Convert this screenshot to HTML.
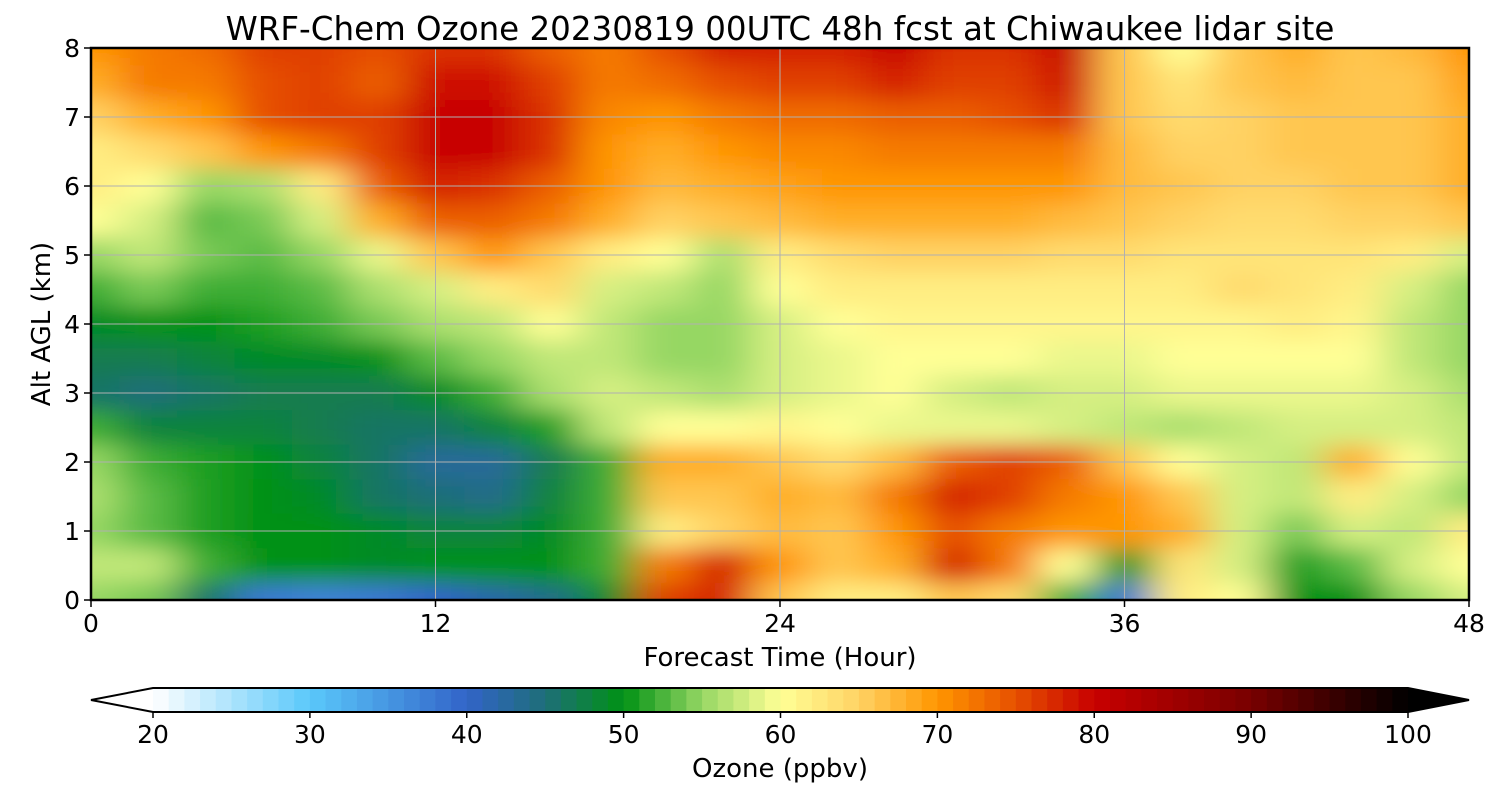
<!DOCTYPE html>
<html><head><meta charset="utf-8"><style>
body{margin:0;background:#fff;}
svg{display:block;font-family:"DejaVu Sans","Liberation Sans",sans-serif;}
</style></head><body>
<svg id="chart" width="1500" height="800" viewBox="0 0 1500 800">
<defs>
<clipPath id="plotclip"><rect x="91" y="48" width="1378" height="552"/></clipPath>
<filter id="soft" filterUnits="userSpaceOnUse" x="0" y="0" width="1600" height="700"><feGaussianBlur stdDeviation="20 11"/></filter>
</defs>
<text x="780" y="40" font-size="32.5" text-anchor="middle">WRF-Chem Ozone  20230819 00UTC 48h fcst at Chiwaukee lidar site</text>
<g id="heat" clip-path="url(#plotclip)"><g id="cells" filter="url(#soft)"></g></g>
<g id="grid"></g>
<rect x="91" y="48" width="1378" height="552" fill="none" stroke="#000" stroke-width="2.5"/>
<g id="axes"></g>
<text x="780" y="666" font-size="26" text-anchor="middle">Forecast Time (Hour)</text>
<text transform="translate(50,324) rotate(-90)" font-size="26" text-anchor="middle">Alt AGL (km)</text>
<g id="cbar"></g>
<text x="780" y="777" font-size="26" text-anchor="middle">Ozone  (ppbv)</text>
</svg>
<script>
const times=[0,2,4,6,8,10,12,14,16,18,20,22,24,26,28,30,32,34,36,38,40,42,44,46,48];
const alts=[8,7.5,7,6.5,6,5.5,5,4.5,4,3.5,3,2.5,2,1.5,1,0.5,0];
const ozone=[
[70,72,73,76,76,75,77,77,74,72,75,78,78,78,80,77,77,80,66,60,66,68,66,67,70],
[68,72,72,75,76,74,79,79,76,72,73,75,76,76,78,76,76,79,66,63,66,67,66,66,69],
[65,68,70,75,76,76,80,80,77,71,70,72,73,73,74,74,75,77,66,64,65,66,66,66,68],
[62,64,66,70,72,76,80,80,77,70,68,70,71,71,72,72,72,72,67,65,65,66,66,66,68],
[62,60,55,56,62,74,78,77,74,70,67,68,69,70,70,70,70,70,67,66,65,65,66,66,68],
[60,58,53,54,58,68,74,74,72,68,65,66,67,68,68,68,68,67,66,65,64,64,65,65,66],
[55,57,54,53,55,59,66,70,66,62,60,56,62,64,65,65,65,64,64,63,63,63,63,62,58],
[52,54,52,52,53,56,58,62,64,58,57,55,60,62,62,62,62,62,62,62,64,63,62,58,55],
[49,50,50,51,52,54,56,57,60,57,55,55,58,60,61,61,61,61,61,61,61,62,61,57,55],
[47,47,48,49,49,50,53,55,57,57,55,55,58,59,60,60,60,59,59,60,60,60,60,57,55],
[46,45,46,47,47,47,49,52,56,58,57,56,58,59,60,58,57,58,58,59,59,59,59,58,56],
[52,48,48,48,47,46,46,48,51,57,60,60,61,60,59,59,59,58,57,56,57,58,58,58,57],
[55,52,51,50,48,46,43,43,47,52,68,68,66,64,67,74,76,74,66,60,58,57,68,60,57],
[56,53,51,50,49,46,45,44,48,52,66,66,68,67,72,78,76,72,70,66,58,57,62,58,55],
[55,53,51,50,50,49,48,48,49,52,62,65,67,66,70,75,72,70,70,68,58,54,58,57,62],
[57,57,52,50,50,49,50,50,50,52,72,78,70,66,68,78,72,60,50,63,58,51,53,58,60],
[55,54,46,38,37,38,40,42,44,49,76,78,66,62,62,66,64,52,38,62,60,50,50,55,58]
];
const xTicks=[0,12,24,36,48];
const yTicks=[0,1,2,3,4,5,6,7,8];
const cbTicks=[20,30,40,50,60,70,80,90,100];

const NS="http://www.w3.org/2000/svg";
const X=t=>91+t/48*1378;
const Y=a=>600-a/8*552;
const CB=v=>153+(v-20)/80*1255;
const stops=[[20,[255,255,255]],[30,[90,200,250]],[40,[50,100,200]],[45,[30,110,120]],[50,[0,145,20]],[55,[150,215,100]],[60,[255,255,150]],[65,[255,210,100]],[70,[255,150,0]],[75,[230,80,0]],[80,[200,0,0]],[90,[120,0,0]],[100,[0,0,0]]];
function color(v){
  if(v<=stops[0][0])return `rgb(${stops[0][1]})`;
  for(let i=1;i<stops.length;i++){if(v<=stops[i][0]){const[a,ca]=stops[i-1],[b,cb]=stops[i];const f=(v-a)/(b-a);return `rgb(${ca.map((c,k)=>Math.round(c+(cb[k]-c)*f)).join(',')})`;}}
  return 'rgb(0,0,0)';
}
const cells=document.getElementById('cells');
alts.forEach((a,r)=>times.forEach((t,c)=>{
  let x0=X(t-1),x1=X(t+1),y0=Y(a+0.25),y1=Y(a-0.25);
  if(c===0)x0-=60; if(c===times.length-1)x1+=60;
  if(r===0)y0-=40; if(r===alts.length-1)y1+=40;
  const el=document.createElementNS(NS,'rect');
  
  
  el.setAttribute('x',x0);el.setAttribute('y',y0);el.setAttribute('width',x1-x0+1);el.setAttribute('height',y1-y0+1);
  el.setAttribute('fill',color(ozone[r][c]));
  cells.appendChild(el);
}));
const grid=document.getElementById('grid'),axes=document.getElementById('axes');
function line(p,x1,y1,x2,y2,st,w,name){const l=document.createElementNS(NS,'line');
  
  
  l.setAttribute('x1',x1);l.setAttribute('y1',y1);l.setAttribute('x2',x2);l.setAttribute('y2',y2);l.setAttribute('stroke',st);l.setAttribute('stroke-width',w);p.appendChild(l);}
function text(p,x,y,s,anchor,size,name){const t=document.createElementNS(NS,'text');
  
  
  t.setAttribute('x',x);t.setAttribute('y',y);t.setAttribute('text-anchor',anchor);t.setAttribute('font-size',size);t.textContent=s;p.appendChild(t);}
xTicks.forEach(t=>{line(grid,X(t),48,X(t),600,'#b0b0b0',1,'x-gridline');line(axes,X(t),600,X(t),607,'#000',1.5,'x-tick');text(axes,X(t),632,t,'middle',25,'x-tick-label');});
yTicks.forEach(a=>{line(grid,91,Y(a),1469,Y(a),'#b0b0b0',1,'y-gridline');line(axes,84,Y(a),91,Y(a),'#000',1.5,'y-tick');text(axes,80,Y(a)+9,a,'end',25,'y-tick-label');});
const cbar=document.getElementById('cbar');
for(let v=20;v<100;v++){const el=document.createElementNS(NS,'rect');
  
  
  el.setAttribute('x',CB(v));el.setAttribute('y',688);el.setAttribute('width',CB(v+1)-CB(v)+0.6);el.setAttribute('height',24);el.setAttribute('fill',color(v+0.5));cbar.appendChild(el);}
const lt=document.createElementNS(NS,'polygon');


lt.setAttribute('points','153,688 91,700 153,712');lt.setAttribute('fill','#fff');cbar.appendChild(lt);
const rt=document.createElementNS(NS,'polygon');


rt.setAttribute('points','1408,688 1469,700 1408,712');rt.setAttribute('fill','#000');cbar.appendChild(rt);
const ol=document.createElementNS(NS,'polygon');


ol.setAttribute('points','153,688 1408,688 1469,700 1408,712 153,712 91,700');ol.setAttribute('fill','none');ol.setAttribute('stroke','#000');ol.setAttribute('stroke-width','2');cbar.appendChild(ol);
cbTicks.forEach(v=>{line(cbar,CB(v),712,CB(v),718,'#000',1.5,'colorbar-tick');text(cbar,CB(v),743,v,'middle',25,'colorbar-tick-label');});
</script>
</body></html>
